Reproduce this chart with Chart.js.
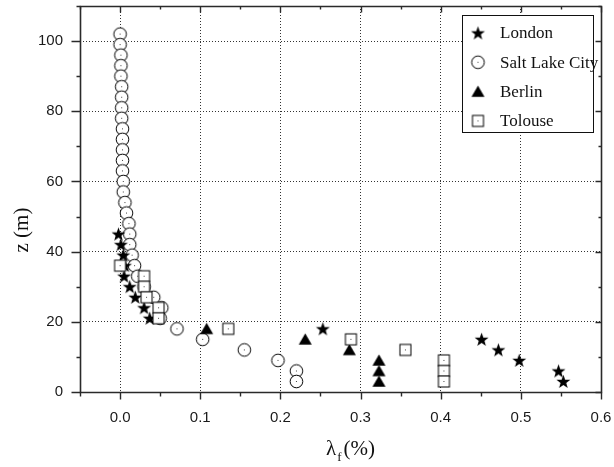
<!DOCTYPE html>
<html>
<head>
<meta charset="utf-8">
<script src="https://cdn.jsdelivr.net/npm/chart.js@4.4.0/dist/chart.umd.min.js"></script>
<style>
  html, body { margin: 0; padding: 0; background: #fff; }
  #wrap { width: 614px; height: 467px; }
</style>
</head>
<body>
<div id="wrap"><canvas id="myChart"></canvas></div>
<script>
// values: x = lambda_f (%), z = height (m)
const seriesNames = ['London', 'Salt Lake City', 'Berlin', 'Tolouse'];

const londonX = [-0.002, 0.001, 0.004, 0.006, 0.005, 0.012, 0.019, 0.030, 0.037, 0.253, 0.451, 0.472, 0.498, 0.547, 0.553];
const londonZ = [45, 42, 39, 36, 33, 30, 27, 24, 21, 18, 15, 12, 9, 6, 3];

const slcX = [0.000, 0.000, 0.001, 0.001, 0.001, 0.002, 0.002, 0.002, 0.002, 0.003, 0.003, 0.003,
              0.003, 0.003, 0.004, 0.004, 0.006, 0.008, 0.011, 0.012, 0.012, 0.015, 0.018, 0.022,
              0.030, 0.042, 0.052, 0.050, 0.071, 0.103, 0.155, 0.197, 0.220, 0.220];
const slcZ = [102, 99, 96, 93, 90, 87, 84, 81, 78, 75, 72, 69, 66, 63, 60, 57, 54, 51,
              48, 45, 42, 39, 36, 33, 30, 27, 24, 21, 18, 15, 12, 9, 6, 3];

const berlinX = [0.108, 0.231, 0.286, 0.323, 0.323, 0.323];
const berlinZ = [18, 15, 12, 9, 6, 3];

const tolouseX = [0.000, 0.030, 0.030, 0.033, 0.048, 0.048, 0.135, 0.288, 0.356, 0.404, 0.404, 0.404];
const tolouseZ = [36, 33, 30, 27, 24, 21, 18, 15, 12, 9, 6, 3];

const xMajorLabels = ['0.0', '0.1', '0.2', '0.3', '0.4', '0.5', '0.6'];
const yMajorLabels = ['0', '20', '40', '60', '80', '100'];

function pts(xs, zs) {
  return xs.map((v, i) => ({ x: v, y: zs[i] }));
}

// marker images (Origin-like symbols)
function makeMarker(kind) {
  const c = document.createElement('canvas');
  c.width = 17; c.height = 17;
  const g = c.getContext('2d');
  const m = 8.5;
  g.strokeStyle = '#000';
  g.fillStyle = '#000';
  g.lineWidth = 1;
  if (kind === 'circle') {
    g.beginPath();
    g.arc(m, m, 6.3, 0, Math.PI * 2);
    g.fillStyle = '#fff';
    g.fill();
    g.stroke();
    g.fillStyle = '#444';
    g.fillRect(m - 0.5, m - 0.5, 1, 1);
  } else if (kind === 'square') {
    g.fillStyle = '#fff';
    g.fillRect(3, 3, 11, 11);
    g.strokeRect(3, 3, 11, 11);
    g.fillStyle = '#444';
    g.fillRect(m - 0.5, m - 0.5, 1, 1);
  } else if (kind === 'triangle') {
    g.beginPath();
    g.moveTo(m, 2.5);
    g.lineTo(m + 6.5, 13.8);
    g.lineTo(m - 6.5, 13.8);
    g.closePath();
    g.fill();
  } else if (kind === 'star') {
    g.beginPath();
    for (let i = 0; i < 10; i++) {
      const r = i % 2 === 0 ? 7.3 : 3;
      const a = -Math.PI / 2 + i * Math.PI / 5;
      const px = m + r * Math.cos(a), py = m + 0.6 + r * Math.sin(a);
      if (i === 0) g.moveTo(px, py); else g.lineTo(px, py);
    }
    g.closePath();
    g.fill();
  }
  return c;
}

const starImg = makeMarker('star');
const circleImg = makeMarker('circle');
const triImg = makeMarker('triangle');
const squareImg = makeMarker('square');

function isMajorX(v) { const k = Math.round(v * 100); return k % 10 === 0; }
function isMajorY(v) { return Math.round(v) % 20 === 0; }

const frame = {
  id: 'frame',
  afterDraw(chart) {
    const { ctx, chartArea: a, scales: { x, y } } = chart;
    ctx.save();
    ctx.strokeStyle = '#2a2a2a';
    ctx.lineWidth = 1.6;
    const L = Math.round(a.left) + 0.5, R = Math.round(a.right) + 0.5;
    const T = Math.round(a.top) + 0.5, B = Math.round(a.bottom) + 0.5;
    ctx.beginPath();
    ctx.rect(L, T, R - L, B - T);
    ctx.stroke();

    ctx.lineWidth = 1.4;
    ctx.beginPath();
    x.ticks.forEach(t => {
      const px = Math.round(x.getPixelForValue(t.value)) + 0.5;
      const major = isMajorX(t.value);
      ctx.moveTo(px, B); ctx.lineTo(px, B + (major ? 7 : 4));
      ctx.moveTo(px, T); ctx.lineTo(px, T + (major ? 6 : 3));
    });
    y.ticks.forEach(t => {
      const py = Math.round(y.getPixelForValue(t.value)) + 0.5;
      const major = isMajorY(t.value);
      ctx.moveTo(L, py); ctx.lineTo(L - (major ? 9 : 4), py);
      ctx.moveTo(R, py); ctx.lineTo(R - (major ? 6 : 3), py);
    });
    ctx.stroke();

    // axis titles
    ctx.fillStyle = '#111';
    ctx.textBaseline = 'alphabetic';
    ctx.textAlign = 'left';
    ctx.font = '21px "Liberation Serif"';
    let tx = 326;
    ctx.fillText('\u03bb', tx, 455);
    tx += ctx.measureText('\u03bb').width + 1;
    ctx.font = '13px "Liberation Serif"';
    ctx.fillText('f', tx, 461);
    tx += ctx.measureText('f').width + 2;
    ctx.font = '21px "Liberation Serif"';
    ctx.fillText('(%)', tx, 455);

    ctx.translate(22, 230);
    ctx.rotate(-Math.PI / 2);
    ctx.textAlign = 'center';
    ctx.textBaseline = 'middle';
    ctx.fillText('z (m)', 0, 0);
    ctx.restore();

    // legend box
    ctx.save();
    ctx.strokeStyle = '#111';
    ctx.lineWidth = 1;
    ctx.fillStyle = '#fff';
    ctx.fillRect(462.5, 15.5, 131, 117);
    ctx.strokeRect(462.5, 15.5, 131, 117);
    ctx.font = '17px "Liberation Serif"';
    ctx.fillStyle = '#111';
    ctx.textBaseline = 'middle';
    chart.data.datasets.forEach((ds, i) => {
      const cy = 33 + i * 29.3;
      const img = ds.pointStyle;
      ctx.drawImage(img, 478 - img.width / 2, cy - img.height / 2);
      ctx.fillText(ds.label, 500, cy + 1);
    });
    ctx.restore();
  }
};

new Chart(document.getElementById('myChart'), {
  type: 'scatter',
  data: {
    datasets: [
      { label: seriesNames[0], data: pts(londonX, londonZ), pointStyle: starImg, order: 2 },
      { label: seriesNames[1], data: pts(slcX, slcZ), pointStyle: circleImg, order: 3 },
      { label: seriesNames[2], data: pts(berlinX, berlinZ), pointStyle: triImg, order: 1 },
      { label: seriesNames[3], data: pts(tolouseX, tolouseZ), pointStyle: squareImg, order: 0 }
    ]
  },
  options: {
    responsive: true,
    maintainAspectRatio: false,
    animation: false,
    layout: { padding: { top: 6, right: 13, left: 0, bottom: 0 } },
    plugins: { legend: { display: false }, tooltip: { enabled: false } },
    scales: {
      x: {
        type: 'linear',
        min: -0.05,
        max: 0.6,
        afterFit: s => { s.height = 75; s.paddingLeft = 0; s.paddingRight = 0; },
        ticks: {
          stepSize: 0.05,
          autoSkip: false,
          maxRotation: 0,
          padding: 17,
          color: '#1a1a1a',
          font: { family: '"Liberation Sans"', size: 15 },
          callback: v => {
            const k = Math.round(v * 100);
            if (k % 10 !== 0 || k < 0) return '';
            return xMajorLabels[k / 10];
          }
        },
        grid: {
          drawTicks: false,
          color: c => (c.tick && isMajorX(c.tick.value) && c.tick.value > -0.01 && c.tick.value < 0.55) ? '#333' : 'rgba(0,0,0,0)'
        },
        border: { display: false, dash: [1, 2] }
      },
      y: {
        type: 'linear',
        min: 0,
        max: 110,
        afterFit: s => { s.width = 80; s.paddingTop = 0; s.paddingBottom = 0; },
        ticks: {
          stepSize: 10,
          autoSkip: false,
          padding: 17,
          color: '#1a1a1a',
          font: { family: '"Liberation Sans"', size: 15 },
          callback: v => {
            const k = Math.round(v);
            if (k % 20 !== 0 || k > 100) return '';
            return yMajorLabels[k / 20];
          }
        },
        grid: {
          drawTicks: false,
          color: c => (c.tick && isMajorY(c.tick.value) && c.tick.value > 1 && c.tick.value < 105) ? '#333' : 'rgba(0,0,0,0)'
        },
        border: { display: false, dash: [1, 2] }
      }
    }
  },
  plugins: [frame]
});
</script>
</body>
</html>
